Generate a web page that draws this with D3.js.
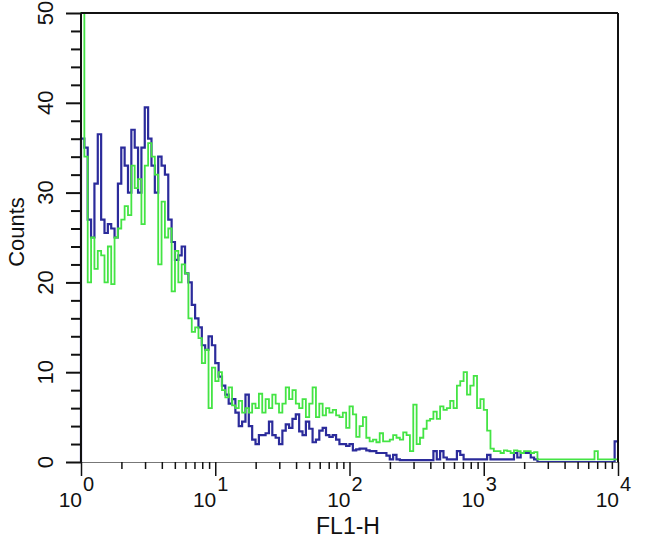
<!DOCTYPE html>
<html lang="en">
	<head>
		<meta charset="utf-8">
		<title>FL1-H histogram</title>
		<script src="https://cdn.jsdelivr.net/npm/d3@7"></script>
	</head>
	<body style="margin:0">
		<script>
			// 160 channels over 4 decades (10^0 .. 10^4), counts
			var blueCounts = [
				36, 35, 27, 25, 31, 36.5, 27, 25.5, 26.5, 26,
				25, 31, 35, 33, 30, 37, 35, 30, 35, 39.5,
				36, 33, 30, 34, 33, 32, 27, 24.5, 22.5, 23,
				24, 21, 20, 17.5, 16, 15, 13, 12.5, 14, 13,
				11, 9.5, 8.5, 7.5, 6.5, 7, 5.5, 4, 4.5, 7.5,
				4, 2.5, 2, 3, 3, 3.2, 4.5, 3, 2.7, 2,
				3.5, 4.2, 3.8, 4.8, 5.3, 3.4, 3, 4.5, 3.7, 2.2,
				2.5, 3.5, 3.8, 3, 2.8, 3, 2.5, 2, 2, 1.8,
				2, 1.3, 1.4, 1.5, 1.5, 1.3, 1.2, 1.2, 1, 1,
				1, 0.7, 0.3, 0.8, 0.3, 0.2, 0.2, 0.2, 0.2, 0.2,
				0.2, 0.2, 0.2, 0.2, 0.2, 1.2, 0.3, 1.2, 0.5, 0.3,
				0.3, 0.3, 1.2, 0.8, 0.3, 0.3, 0.3, 0.3, 0.3, 0.3,
				0.3, 0.8, 0.3, 0.3, 0.3, 0.3, 0.3, 0.3, 0.3, 1,
				0.5, 1, 1, 1, 0.5, 0.3, 0, 0, 0, 0,
				0, 0, 0, 0, 0, 0, 0, 0, 0, 0,
				0, 0, 0, 0, 0, 0, 0, 0, 0, 2.3
			]
			var greenCounts = [
				50, 34, 20, 25, 21.5, 23.5, 23, 20, 24, 19.8,
				25, 26, 27, 28.5, 27.5, 33, 30.5, 31.5, 26.5, 33,
				35.5, 34, 32, 22, 29, 25, 26, 19, 23.5, 20,
				22, 21, 16, 14.5, 15, 13.8, 11, 12.5, 6, 10.5,
				9, 10, 8, 7.2, 8.3, 6.3, 6, 6.8, 5.5, 6,
				5.5, 6.5, 6, 7.6, 5.5, 7, 6, 7.5, 6.5, 5.5,
				6.5, 8.3, 7, 8, 6.5, 6, 7, 5, 6.5, 8.3,
				5, 6.5, 5.2, 6, 5.5, 5.8, 5.2, 5, 5.5, 3.8,
				6.2, 5.3, 2.8, 4, 5, 2.7, 2.3, 2.5, 2.2, 3.2,
				2.3, 2.3, 2.5, 3, 2.7, 2.5, 3.3, 3, 1.2, 6.4,
				2, 2.7, 3.7, 4.6, 4.8, 5.6, 4.8, 6.2, 5.8, 6,
				6.8, 6, 8.5, 9, 10, 7.5, 8.5, 9.6, 6, 7,
				5.8, 3.5, 1.5, 1.2, 1.2, 1, 1.3, 1.2, 1, 1.3,
				1.2, 1, 1.2, 1.2, 1, 1.1, 0.3, 0.3, 0.3, 0.3,
				0.3, 0.3, 0.3, 0.3, 0.3, 0.3, 0.3, 0.3, 0.3, 0.3,
				0.3, 0.3, 0.3, 1.2, 0.3, 0.3, 0.3, 0.3, 0.3, 0.3
			]
			var yMajorTicks = [0, 10, 20, 30, 40, 50]
			var xDecades = [0, 1, 2, 3, 4]
			var xLabel = "FL1-H"
			var yLabel = "Counts"

			var w = 650, h = 546
			var plotLeft = 81, plotRight = 618, plotTop = 13, plotBottom = 462
			var font = "Arial, 'Liberation Sans', sans-serif"

			var svg = d3.select("body").append("svg")
				.attr("width", w).attr("height", h)

			var x = d3.scaleLog().domain([1, 1e4]).range([plotLeft, plotRight])
			var y = d3.scaleLinear().domain([0, 50]).range([plotBottom, plotTop])

			// channel edges in data units
			var nBins = blueCounts.length
			function edge(i) { return Math.pow(10, i * 4 / nBins) }

			function stepPoints(counts) {
				var pts = [[edge(0), 0]]
				counts.forEach(function(v, i) { pts.push([edge(i), v]) })
				pts.push([edge(nBins), counts[nBins - 1]])
				return pts
			}

			var line = d3.line()
				.x(function(d) { return x(d[0]) })
				.y(function(d) { return Math.max(plotTop, y(d[1])) })
				.curve(d3.curveStepAfter)

			svg.append("path")
				.datum(stepPoints(blueCounts))
				.attr("d", line)
				.attr("fill", "none")
				.attr("stroke", "#2b2b9b")
				.attr("stroke-width", 2.2)

			svg.append("path")
				.datum(stepPoints(greenCounts))
				.attr("d", line)
				.attr("fill", "none")
				.attr("stroke", "#44e444")
				.attr("stroke-width", 1.8)

			// frame
			svg.append("line")
				.attr("x1", plotLeft).attr("x2", plotRight)
				.attr("y1", plotBottom + 0.5).attr("y2", plotBottom + 0.5)
				.attr("stroke", "#777").attr("stroke-width", 1)
			svg.append("line")
				.attr("x1", plotLeft).attr("x2", plotRight)
				.attr("y1", plotTop).attr("y2", plotTop)
				.attr("stroke", "#111").attr("stroke-width", 2)
			svg.append("line")
				.attr("x1", plotRight).attr("x2", plotRight)
				.attr("y1", plotTop).attr("y2", plotBottom)
				.attr("stroke", "#111").attr("stroke-width", 2)
			svg.append("line")
				.attr("x1", plotLeft).attr("x2", plotLeft)
				.attr("y1", plotTop).attr("y2", plotBottom)
				.attr("stroke", "#111").attr("stroke-width", 2)

			// y axis: minor ticks every 2, longer ticks at the labelled tens
			var minorY = d3.range(0, 51, 2).filter(function(d) { return d % 10 != 0 })
			var gyMinor = svg.append("g")
				.attr("transform", "translate(" + plotLeft + ",0)")
				.call(d3.axisLeft(y).tickValues(minorY).tickSize(10).tickFormat(""))
			var gyMajor = svg.append("g")
				.attr("transform", "translate(" + plotLeft + ",0)")
				.call(d3.axisLeft(y).tickValues(yMajorTicks).tickSize(15).tickFormat(""))
			gyMinor.select(".domain").remove()
			gyMajor.select(".domain").remove()
			gyMinor.selectAll(".tick line").attr("stroke", "#111").attr("stroke-width", 2)
			gyMajor.selectAll(".tick line").attr("stroke", "#111").attr("stroke-width", 2)

			// x axis: decades plus log minors
			var minorX = []
			xDecades.forEach(function(k) {
				if (k < 4) for (var m = 2; m <= 9; m++) minorX.push(m * Math.pow(10, k))
			})
			var majorX = xDecades.map(function(k) { return Math.pow(10, k) })
			var gxMinor = svg.append("g")
				.attr("transform", "translate(0," + plotBottom + ")")
				.call(d3.axisBottom(x).tickValues(minorX).tickSize(7).tickFormat(""))
			var gxMajor = svg.append("g")
				.attr("transform", "translate(0," + plotBottom + ")")
				.call(d3.axisBottom(x).tickValues(majorX).tickSize(14).tickFormat(""))
			gxMinor.select(".domain").remove()
			gxMajor.select(".domain").remove()
			gxMinor.selectAll(".tick line").attr("stroke", "#111").attr("stroke-width", 1.5)
			gxMajor.selectAll(".tick line").attr("stroke", "#111").attr("stroke-width", 1.5)

			svg.selectAll("text.ylab").data(yMajorTicks).enter().append("text")
				.attr("class", "ylab")
				.attr("transform", function(d) { return "translate(53," + y(d) + ") rotate(-90)" })
				.attr("text-anchor", "middle")
				.attr("font-family", font)
				.attr("font-size", 22)
				.attr("fill", "#111")
				.text(function(d) { return d })

			var xl = svg.selectAll("g.xlab").data(xDecades).enter().append("g")
				.attr("class", "xlab")
				.attr("transform", function(d) { return "translate(" + x(Math.pow(10, d)) + ",0)" })
			xl.append("text")
				.attr("x", 1).attr("y", 507)
				.attr("text-anchor", "end")
				.attr("font-family", font)
				.attr("font-size", 21)
				.attr("fill", "#111")
				.text("10")
			xl.append("text")
				.attr("x", 2).attr("y", 491)
				.attr("text-anchor", "start")
				.attr("font-family", font)
				.attr("font-size", 20)
				.attr("fill", "#111")
				.text(function(d) { return d })

			svg.append("text")
				.attr("x", 348).attr("y", 534)
				.attr("text-anchor", "middle")
				.attr("font-family", font)
				.attr("font-size", 23)
				.attr("fill", "#111")
				.text(xLabel)

			svg.append("text")
				.attr("transform", "translate(24,232) rotate(-90)")
				.attr("text-anchor", "middle")
				.attr("font-family", font)
				.attr("font-size", 22)
				.attr("fill", "#111")
				.text(yLabel)
		</script>
	</body>
</html>
